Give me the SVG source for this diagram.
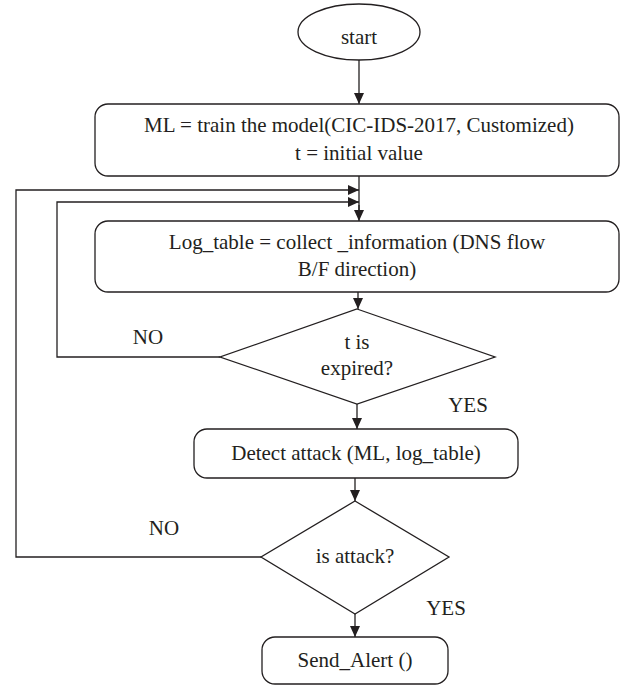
<svg xmlns="http://www.w3.org/2000/svg" width="621" height="686" viewBox="0 0 621 686">
  <defs>
    <marker id="arrow" markerUnits="userSpaceOnUse" markerWidth="11" markerHeight="10" refX="11" refY="5" orient="auto">
      <path d="M0,0 L11,5 L0,10 Z" fill="#231f20"/>
    </marker>
    <style>
      .shape { fill: #ffffff; stroke: #231f20; stroke-width: 1.3; }
      .edge { fill: none; stroke: #231f20; stroke-width: 1.3; marker-end: url(#arrow); }
      .line { fill: none; stroke: #231f20; stroke-width: 1.3; }
      text { font-family: "Liberation Serif", "Times New Roman", serif; font-size: 21px; fill: #231f20; text-anchor: middle; }
    </style>
  </defs>
  <rect width="621" height="686" fill="#ffffff"/>

  <!-- connectors -->
  <g id="connectors">
    <line class="edge" x1="359" y1="60" x2="359" y2="104"/>
    <line class="line" x1="359" y1="176" x2="359" y2="210"/>
    <line class="edge" x1="359" y1="205" x2="359" y2="221"/>
    <polyline class="edge" points="261,557 16,557 16,190 359,190"/>
    <polyline class="edge" points="220,357 57,357 57,202 359,202"/>
    <line class="edge" x1="358" y1="292" x2="358" y2="309"/>
    <line class="edge" x1="357" y1="404" x2="357" y2="429"/>
    <line class="edge" x1="355" y1="478" x2="355" y2="501"/>
    <line class="edge" x1="355" y1="614" x2="355" y2="637"/>
    <text x="148" y="344">NO</text>
    <text x="468" y="412">YES</text>
    <text x="164" y="535">NO</text>
    <text x="446" y="615">YES</text>
  </g>

  <g id="start">
    <ellipse class="shape" cx="359" cy="32" rx="61" ry="28"/>
    <text x="359" y="44">start</text>
  </g>

  <g id="train">
    <rect class="shape" x="95" y="104" width="524" height="72" rx="13"/>
    <text x="359" y="132">ML = train the model(CIC-IDS-2017, Customized)</text>
    <text x="359" y="160">t = initial value</text>
  </g>

  <g id="collect">
    <rect class="shape" x="95" y="221" width="524" height="71" rx="13"/>
    <text x="357" y="249">Log_table = collect _information (DNS flow</text>
    <text x="357" y="276">B/F direction)</text>
  </g>

  <g id="expired">
    <polygon class="shape" points="357,309 495,357 357,404 220,357"/>
    <text x="357" y="349">t is</text>
    <text x="357" y="375">expired?</text>
  </g>

  <g id="detect">
    <rect class="shape" x="194" y="429" width="324" height="49" rx="13"/>
    <text x="356" y="460">Detect attack (ML, log_table)</text>
  </g>

  <g id="is-attack">
    <polygon class="shape" points="355,501 449,557 355,614 261,557"/>
    <text x="355" y="563">is attack?</text>
  </g>

  <g id="alert">
    <rect class="shape" x="262" y="637" width="186" height="47" rx="13"/>
    <text x="355" y="667">Send_Alert ()</text>
  </g>
</svg>
